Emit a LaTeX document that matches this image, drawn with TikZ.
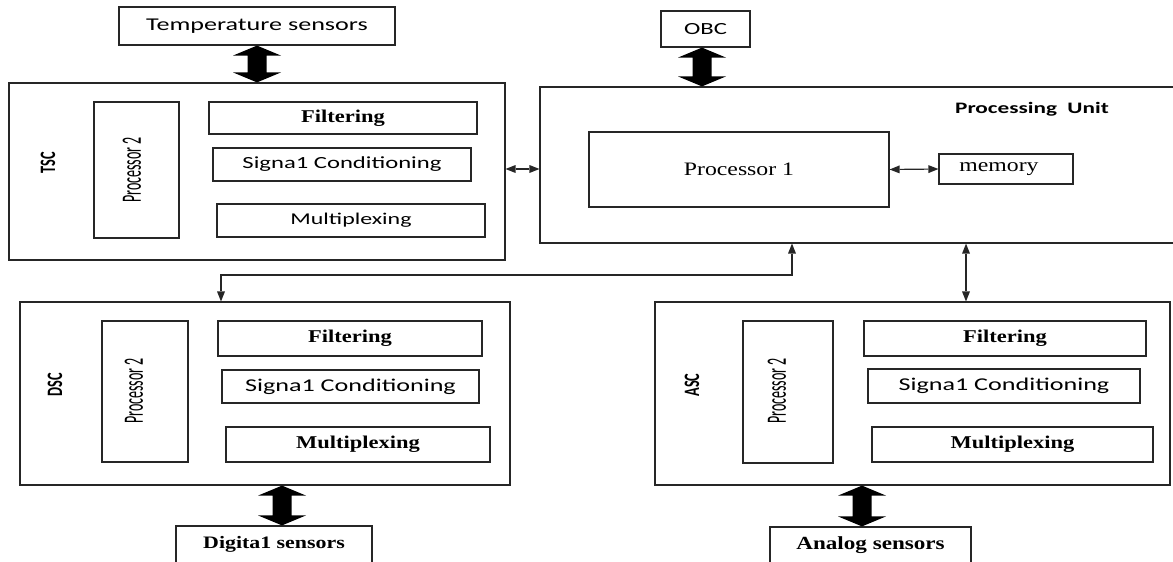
\documentclass[tikz,border=0pt]{standalone}
\usepackage{fontspec}
\setmainfont{Liberation Serif}
\newfontfamily\sansW[FakeStretch=1.45]{Carlito}
\newfontfamily\serifW[FakeStretch=1.25]{Liberation Serif}
\newfontfamily\sansN[FakeStretch=0.5]{Carlito}
\newfontfamily\sansM[FakeStretch=0.65]{Carlito}
\usetikzlibrary{arrows.meta,calc}
\newcommand\fsz[1]{\fontsize{#1}{#1}\selectfont}
% fat double arrow between a top point and a bottom point (same x)
\newcommand\fatarrow[2]{%
  \fill[black] let \p1=(#1), \p2=(#2) in
    (\x1,\y1) -- ({\x1+24pt},{\y1-10pt}) -- ({\x1+9.5pt},{\y1-10pt})
    -- ({\x1+9.5pt},{\y2+10pt}) -- ({\x1+24pt},{\y2+10pt}) -- (\x1,\y2)
    -- ({\x1-24pt},{\y2+10pt}) -- ({\x1-9.5pt},{\y2+10pt})
    -- ({\x1-9.5pt},{\y1-10pt}) -- ({\x1-24pt},{\y1-10pt}) -- cycle;}
\tikzset{
  box/.style={draw=black!85, line width=1.2pt, inner sep=0pt},
  txt/.style={inner sep=0pt},
  thinarr/.style={line width=1.2pt, black!85, {Triangle[width=8pt,length=10pt,line width=0pt]}-{Triangle[width=8pt,length=10pt,line width=0pt]}},
  sensorbox/.style={box, text height=12pt, text depth=12pt},
  vlabel/.style={txt, rotate=90},
}
\begin{document}
\begin{tikzpicture}[x=1pt,y=-1pt]
\useasboundingbox (0,0) rectangle (1173,562);

% ---------- top sensors / OBC ----------
\node[box, minimum width=276pt, minimum height=38pt] (ts) at (257,26) {\sansW\fsz{18}Temperature sensors};
\node[box, minimum width=89pt, minimum height=36pt] (obc) at (705.5,29) {\sansW\fsz{17}OBC};

% ---------- TSC ----------
\node[box, minimum width=496pt, minimum height=177pt] (tsc) at (257,171.5) {};
\node[vlabel] (tsclbl) at (48,163) {\sansM\bfseries\fsz{22}TSC};
\node[box, minimum width=85pt, minimum height=136pt] (tscp) at (136.5,170) {};
\node[vlabel] (tscpl) at (132,170) {\sansN\fsz{28}Processor 2};
\node[box, minimum width=268pt, minimum height=32pt] (tscf) at (343,118) {\serifW\bfseries\fsz{18}Filtering};
\node[box, minimum width=258pt, minimum height=33pt] (tscs) at (342,164.5) {\sansW\fsz{17}Signa1 Conditioning};
\node[box, minimum width=268pt, minimum height=33pt] (tscm) at (351,220.5) {\sansW\fsz{16.5}Multiplexing};

% ---------- Processing unit ----------
\node[box, minimum width=640pt, minimum height=156pt] (pu) at (860,165) {};
\node[txt] (pulbl) at (1032,109) {\sansW\bfseries\fsz{16}Processing\ \ Unit};
\node[box, minimum width=300pt, minimum height=75pt] (p1) at (739,169.5) {\serifW\fsz{19}Processor 1};
\node[box, minimum width=134pt, minimum height=30pt] (mem) at (1006,169) {\serifW\fsz{19}memory\hspace*{14pt}};

% ---------- DSC ----------
\node[box, minimum width=490pt, minimum height=183pt] (dsc) at (265,393.5) {};
\node[vlabel] (dsclbl) at (55,385) {\sansM\bfseries\fsz{22}DSC};
\node[box, minimum width=86pt, minimum height=141pt] (dscp) at (145,391.5) {};
\node[vlabel] (dscpl) at (134,391) {\sansN\fsz{28}Processor 2};
\node[box, minimum width=264pt, minimum height=35pt] (dscf) at (350,338.5) {\serifW\bfseries\fsz{18}Filtering};
\node[box, minimum width=257pt, minimum height=33pt] (dscs) at (350.5,386.5) {\sansW\fsz{18}Signa1 Conditioning};
\node[box, minimum width=264pt, minimum height=35pt] (dscm) at (358,444.5) {\serifW\bfseries\fsz{18}Multiplexing};

% ---------- ASC ----------
\node[box, minimum width=515pt, minimum height=183pt] (asc) at (912.5,393.5) {};
\node[vlabel] (asclbl) at (692,385) {\sansM\bfseries\fsz{22}ASC};
\node[box, minimum width=90pt, minimum height=142pt] (ascp) at (788,392) {};
\node[vlabel] (ascpl) at (777,391) {\sansN\fsz{28}Processor 2};
\node[box, minimum width=282pt, minimum height=35pt] (ascf) at (1005,338.5) {\serifW\bfseries\fsz{18}Filtering};
\node[box, minimum width=272pt, minimum height=34pt] (ascs) at (1004,386) {\sansW\fsz{18}Signa1 Conditioning};
\node[box, minimum width=281pt, minimum height=35pt] (ascm) at (1012.5,444.5) {\serifW\bfseries\fsz{18}Multiplexing};

% ---------- bottom sensors ----------
\node[sensorbox, minimum width=196pt, minimum height=44pt] (dsens) at (274,548) {\serifW\bfseries\fsz{17.5}Digita1 sensors};
\node[sensorbox, minimum width=201pt, minimum height=44pt] (asens) at (870.5,549) {\serifW\bfseries\fsz{18.5}Analog sensors};

% ---------- fat double arrows ----------
\fatarrow{ts.south}{ts.south |- tsc.north}
\fatarrow{$(obc.south)+(-3.5,0)$}{$(obc.south |- pu.north)+(-3.5,0)$}
\fatarrow{$(dsens.north |- dsc.south)+(8,0)$}{$(dsens.north)+(8,0)$}
\fatarrow{$(asens.north |- asc.south)+(-8.5,0)$}{$(asens.north)+(-8.5,0)$}

% ---------- thin connectors ----------
\draw[thinarr] (tsc.east |- 0,169) -- (pu.west |- 0,169);
\draw[thinarr] (p1.east) -- (mem.west);
\coordinate (k1) at (792,275);
\coordinate (k2) at (221,275);
\draw[thinarr] (pu.south -| k1) -- (k1) -- (k2) -- (k2 |- dsc.north);
\coordinate (k3) at (966,275);
\draw[thinarr] (pu.south -| k3) -- (k3 |- asc.north);
\end{tikzpicture}
\end{document}
